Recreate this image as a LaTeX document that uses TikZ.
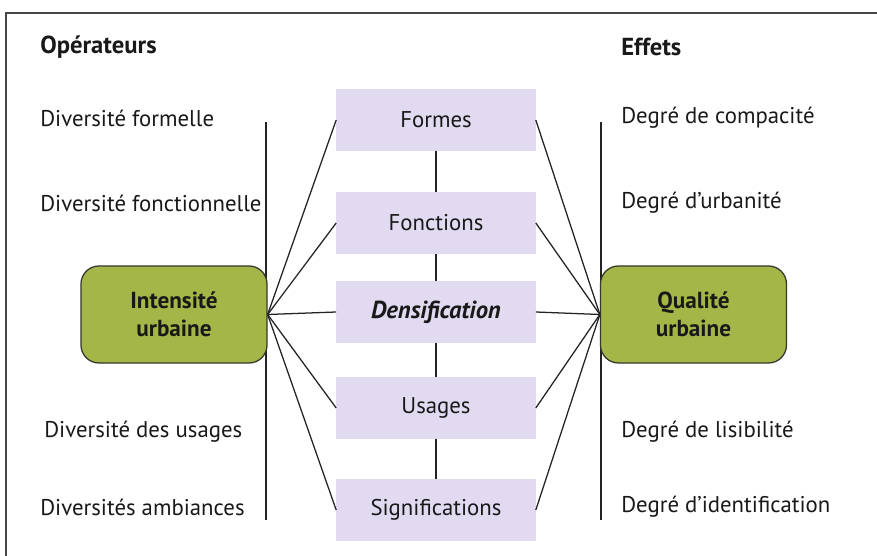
\documentclass[tikz,border=0pt]{standalone}
\usepackage{fontspec}
\setmainfont{PT Sans}
\definecolor{lavande}{RGB}{226,218,240}
\definecolor{vertolive}{RGB}{164,182,72}
\definecolor{bordvert}{RGB}{55,55,45}
\definecolor{gristrait}{RGB}{35,35,35}
\definecolor{texte}{RGB}{25,25,25}
\definecolor{griscadre}{RGB}{70,70,70}
\begin{document}
\begin{tikzpicture}[x=0.025cm,y=-0.025cm,
  every node/.style={font=\fontsize{16.2}{19}\selectfont, text=texte},
  cadre/.style={fill=lavande, minimum width=4.975cm, minimum height=1.525cm},
  pole/.style={draw=bordvert, line width=0.9pt, fill=vertolive, rounded corners=0.45cm,
    minimum width=4.65cm, minimum height=2.425cm, align=center,
    font=\fontsize{16.5}{20}\selectfont\bfseries},
  etiq/.style={anchor=west, inner xsep=0pt},
  titre/.style={anchor=west, inner xsep=0pt, font=\fontsize{17.5}{20}\selectfont\bfseries},
  trait/.style={line width=0.9pt, draw=gristrait}]
\useasboundingbox (0,0) rectangle (877,556);
\draw[griscadre, line width=1.1pt] (6,556) -- (6,13) -- (877,13);
\node[titre] (opera) at (40,47) {Opérateurs};
\node[titre] (effets) at (621,47) {Effets};
\node[etiq] (divforme) at (40,118) {Diversité formelle};
\node[etiq] (divfonc) at (40,203) {Diversité fonctionnelle};
\node[etiq] (divusage) at (44,432) {Diversité des usages};
\node[etiq] (divamb) at (40,507) {Diversités ambiances};
\node[etiq] (compac) at (621,118) {Degré de compacité};
\node[etiq] (urbanite) at (621,203) {Degré d’urbanité};
\node[etiq] (lisib) at (621,432) {Degré de lisibilité};
\node[etiq] (ident) at (621,507) {Degré d’identification};
\draw[trait] (266,122) -- (266,520);
\draw[trait] (601,122) -- (601,520);
\node[cadre] (formes) at (436,120) {Formes};
\node[cadre] (fonctions) at (436,223) {Fonctions};
\node[cadre] (densif) at (436,312) {\fontsize{17.5}{20}\selectfont\bfseries\itshape Densification};
\node[cadre] (usages) at (436,408) {Usages};
\node[cadre] (signif) at (436,510) {Significations};
\node[pole] (intensite) at (174,314.5) {Intensité\\urbaine};
\node[pole] (qualite) at (693.5,314.5) {Qualité\\urbaine};
\draw[trait] (formes) -- (fonctions);
\draw[trait] (fonctions) -- (densif);
\draw[trait] (densif) -- (usages);
\draw[trait] (usages) -- (signif);
\foreach \b in {formes,fonctions,densif,usages,signif} {
  \draw[trait] (intensite.east) -- (\b.west);
  \draw[trait] (qualite.west) -- (\b.east);
}
\end{tikzpicture}
\end{document}
